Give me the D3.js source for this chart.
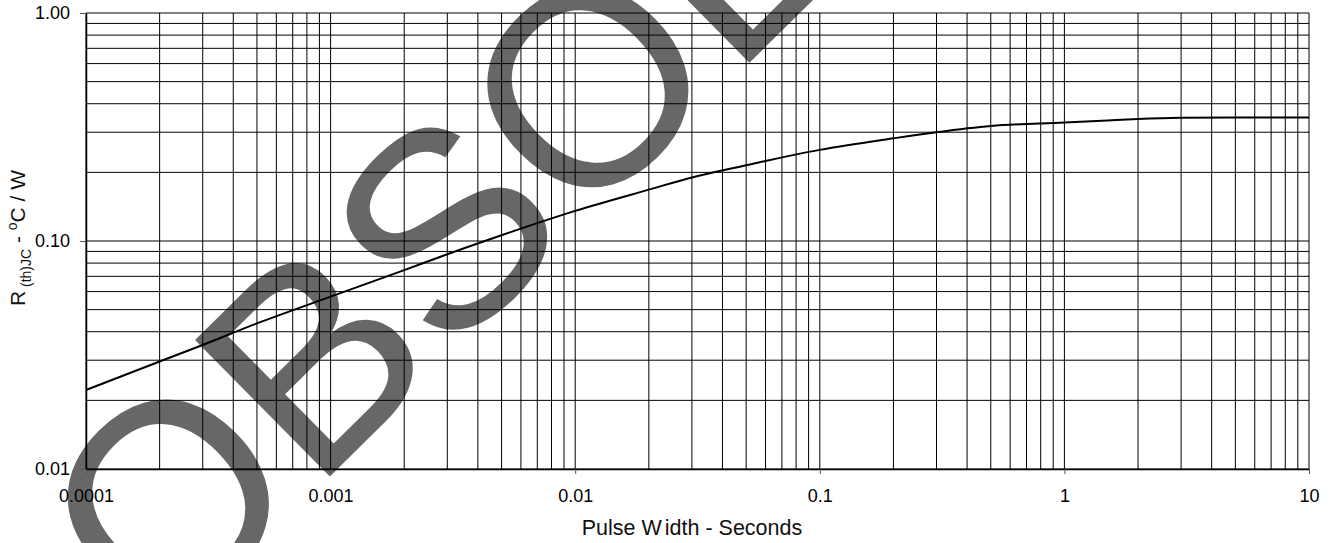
<!DOCTYPE html>
<html>
<head>
<meta charset="utf-8">
<script src="https://cdn.jsdelivr.net/npm/d3@7"></script>
<style>
  body { margin: 0; background: #fff; }
  text { font-family: Arial, "Liberation Sans", sans-serif; }
</style>
</head>
<body>
<div id="chart"></div>
<script>
// transient thermal impedance
const pulseWidth = [0.0001, 0.0002, 0.0003, 0.0005, 0.001, 0.002, 0.003, 0.005, 0.01, 0.02, 0.03, 0.05, 0.1, 0.2, 0.3, 0.5, 1, 1.5, 2, 3, 5, 10];
const rthJC = [0.0222, 0.0296, 0.035, 0.0435, 0.057, 0.0745, 0.0875, 0.106, 0.1355, 0.168, 0.19, 0.215, 0.251, 0.282, 0.3, 0.3195, 0.331, 0.338, 0.343, 0.347, 0.348, 0.348];

const xTicks = [0.0001, 0.001, 0.01, 0.1, 1, 10];
const xTickLabels = ["0.0001", "0.001", "0.01", "0.1", "1", "10"];
const yTicks = [0.01, 0.1, 1];
const yTickLabels = ["0.01", "0.10", "1.00"];

const W = 1338, H = 543;
const PLOT = { LEFT: 86, RIGHT: 1309, TOP: 13, BOTTOM: 469 };

const svg = d3.select("#chart").append("svg")
    .attr("width", W)
    .attr("height", H);

const x = d3.scaleLog().domain([0.0001, 10]).range([PLOT.LEFT, PLOT.RIGHT]);
const y = d3.scaleLog().domain([0.01, 1]).range([PLOT.BOTTOM, PLOT.TOP]);

// watermark behind everything
svg.append("text")
    .attr("transform", "translate(159,645) rotate(-44.6)")
    .attr("font-size", 279)
    .attr("fill", "#676767")
    .text("OBSOLETE");

// grid
const grid = svg.append("g").attr("stroke", "#000").attr("stroke-width", 1);
grid.selectAll("line.v")
  .data(x.ticks())
  .join("line")
    .attr("class", "v")
    .attr("x1", d => x(d)).attr("x2", d => x(d))
    .attr("y1", PLOT.TOP).attr("y2", PLOT.BOTTOM);
grid.selectAll("line.h")
  .data(y.ticks())
  .join("line")
    .attr("class", "h")
    .attr("x1", PLOT.LEFT).attr("x2", PLOT.RIGHT)
    .attr("y1", d => y(d)).attr("y2", d => y(d));

// axes
const xAxis = d3.axisBottom(x)
    .tickValues(xTicks)
    .tickFormat((d, i) => xTickLabels[i])
    .tickSize(5).tickSizeOuter(0).tickPadding(15);
const yAxis = d3.axisLeft(y)
    .tickValues(yTicks)
    .tickFormat((d, i) => yTickLabels[i])
    .tickSize(6).tickSizeOuter(0).tickPadding(10);

const gx = svg.append("g")
    .attr("transform", `translate(0,${PLOT.BOTTOM})`)
    .call(xAxis);
const gy = svg.append("g")
    .attr("transform", `translate(${PLOT.LEFT},0)`)
    .call(yAxis);

[gx, gy].forEach(g => {
  g.selectAll("text").attr("font-size", 18).attr("fill", "#000")
      .style("font-family", "Arial, 'Liberation Sans', sans-serif");
  g.selectAll("line").attr("stroke", "#555");
  g.select(".domain").attr("stroke", "#000").attr("stroke-width", 1.5);
});

// curve
const line = d3.line()
    .x((d, i) => x(pulseWidth[i]))
    .y(d => y(d))
    .curve(d3.curveMonotoneX);

svg.append("path")
    .datum(rthJC)
    .attr("d", line)
    .attr("fill", "none")
    .attr("stroke", "#000")
    .attr("stroke-width", 2);

// axis titles
const xt = svg.append("text")
    .attr("x", 692)
    .attr("y", 535)
    .attr("text-anchor", "middle")
    .attr("font-size", 21.5)
    .attr("fill", "#111");
xt.append("tspan").text("Pulse W");
xt.append("tspan").attr("dx", 3).text("idth - Seconds");

const yt = svg.append("text")
    .attr("transform", "translate(25,238) rotate(-90)")
    .attr("text-anchor", "middle")
    .attr("font-size", 21)
    .attr("fill", "#111");
yt.append("tspan").text("R");
yt.append("tspan").attr("font-size", 14).attr("dy", 6).text(" (th)JC");
yt.append("tspan").attr("dy", -6).text(" - ");
yt.append("tspan").attr("font-size", 14).attr("dy", -8).text("o");
yt.append("tspan").attr("dy", 8).text("C / W");
</script>
</body>
</html>
